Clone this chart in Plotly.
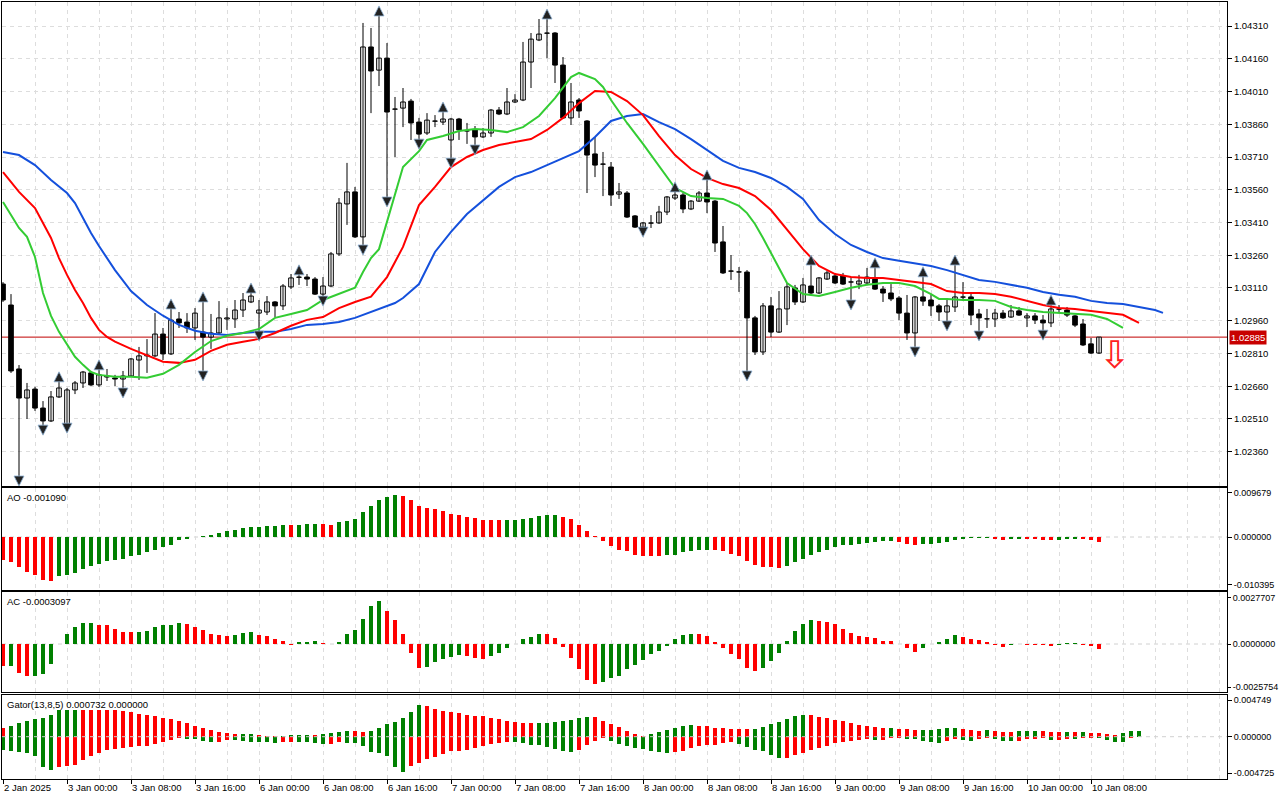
import plotly.graph_objects as go
from plotly.subplots import make_subplots

# ---------------- data (EURUSD-like H1, 2 Jan 16:00 -> 10 Jan 09:00) ----------------
open_ = [1.03128, 1.03032, 1.02739, 1.02606, 1.02647, 1.02560, 1.02501, 1.02611, 1.02487, 1.02643,
         1.02675, 1.02721, 1.02666, 1.02702, 1.02698, 1.02693, 1.02707, 1.02780, 1.02799, 1.02799,
         1.02899, 1.02808, 1.02968, 1.02954, 1.02927, 1.02908, 1.02885, 1.02904, 1.02968, 1.02968,
         1.03009, 1.03046, 1.02995, 1.03000, 1.03046, 1.03028, 1.03115, 1.03160, 1.03160, 1.03151,
         1.03082, 1.03119, 1.03266, 1.03495, 1.03550, 1.03344, 1.04214, 1.04108, 1.04163, 1.03930,
         1.03934, 1.03966, 1.03870, 1.03820, 1.03875, 1.03870, 1.03788, 1.03884, 1.03829, 1.03834,
         1.03802, 1.03820, 1.03925, 1.03907, 1.03962, 1.03971, 1.04145, 1.04246, 1.04278, 1.04278,
         1.04131, 1.03889, 1.03971, 1.03875, 1.03724, 1.03678, 1.03664, 1.03540, 1.03545, 1.03440,
         1.03389, 1.03408, 1.03408, 1.03458, 1.03522, 1.03536, 1.03472, 1.03508, 1.03545, 1.03508,
         1.03321, 1.03188, 1.03183, 1.03183, 1.02973, 1.02817, 1.03028, 1.02908, 1.03014, 1.03110,
         1.03046, 1.03119, 1.03087, 1.03151, 1.03165, 1.03165, 1.03137, 1.03128, 1.03133, 1.03156,
         1.03105, 1.03087, 1.03064, 1.02995, 1.02904, 1.03069, 1.03055, 1.03028, 1.03000, 1.03023,
         1.03069, 1.03069, 1.02991, 1.02968, 1.02968, 1.02995, 1.02977, 1.03005, 1.02973, 1.02982,
         1.02963, 1.02950, 1.03014, 1.03009, 1.02982, 1.02945, 1.02854, 1.02812]
high = [1.03137, 1.03082, 1.02757, 1.02675, 1.02657, 1.02592, 1.02638, 1.02689, 1.02652, 1.02684,
        1.02730, 1.02730, 1.02744, 1.02739, 1.02712, 1.02730, 1.02789, 1.02840, 1.02876, 1.02995,
        1.02927, 1.03023, 1.03000, 1.02995, 1.03018, 1.03055, 1.02991, 1.03050, 1.03018, 1.03055,
        1.03087, 1.03096, 1.03055, 1.03073, 1.03050, 1.03128, 1.03174, 1.03179, 1.03174, 1.03160,
        1.03160, 1.03275, 1.03522, 1.03683, 1.03573, 1.04324, 1.04301, 1.04365, 1.04232, 1.03985,
        1.04026, 1.03976, 1.03889, 1.03911, 1.03902, 1.03925, 1.03889, 1.03889, 1.03866, 1.03852,
        1.03843, 1.03930, 1.03939, 1.04026, 1.03998, 1.04237, 1.04278, 1.04342, 1.04351, 1.04282,
        1.04168, 1.04049, 1.03980, 1.03879, 1.03802, 1.03733, 1.03687, 1.03591, 1.03554, 1.03444,
        1.03412, 1.03444, 1.03486, 1.03531, 1.03559, 1.03545, 1.03513, 1.03554, 1.03614, 1.03513,
        1.03394, 1.03261, 1.03206, 1.03192, 1.02982, 1.03041, 1.03069, 1.03096, 1.03133, 1.03124,
        1.03156, 1.03224, 1.03160, 1.03188, 1.03179, 1.03179, 1.03160, 1.03170, 1.03202, 1.03211,
        1.03119, 1.03128, 1.03073, 1.03078, 1.03073, 1.03170, 1.03078, 1.03037, 1.03055, 1.03224,
        1.03137, 1.03087, 1.03014, 1.03014, 1.03014, 1.03009, 1.03032, 1.03023, 1.02995, 1.02995,
        1.02986, 1.03041, 1.03032, 1.03023, 1.02986, 1.02968, 1.02881, 1.02885]
low = [1.03046, 1.02721, 1.02240, 1.02510, 1.02547, 1.02473, 1.02496, 1.02606, 1.02482, 1.02624,
       1.02652, 1.02661, 1.02657, 1.02684, 1.02661, 1.02643, 1.02702, 1.02689, 1.02721, 1.02794,
       1.02780, 1.02803, 1.02927, 1.02904, 1.02872, 1.02721, 1.02831, 1.02899, 1.02918, 1.02927,
       1.02977, 1.03041, 1.02904, 1.02986, 1.02977, 1.03009, 1.03105, 1.03124, 1.03119, 1.03078,
       1.03064, 1.03115, 1.03257, 1.03399, 1.03339, 1.03298, 1.03911, 1.04035, 1.03518, 1.03710,
       1.03847, 1.03788, 1.03783, 1.03811, 1.03847, 1.03857, 1.03696, 1.03788, 1.03770, 1.03756,
       1.03797, 1.03802, 1.03902, 1.03902, 1.03957, 1.03966, 1.04026, 1.04241, 1.04163, 1.04049,
       1.03884, 1.03857, 1.03889, 1.03545, 1.03618, 1.03531, 1.03486, 1.03518, 1.03431, 1.03385,
       1.03380, 1.03385, 1.03403, 1.03444, 1.03513, 1.03453, 1.03467, 1.03504, 1.03453, 1.03275,
       1.03174, 1.03147, 1.03092, 1.02721, 1.02803, 1.02803, 1.02885, 1.02904, 1.02940, 1.03032,
       1.03041, 1.03082, 1.03082, 1.03147, 1.03128, 1.03124, 1.03046, 1.03105, 1.03128, 1.03101,
       1.03046, 1.03050, 1.02963, 1.02872, 1.02831, 1.03028, 1.02982, 1.02959, 1.02950, 1.03000,
       1.03055, 1.02940, 1.02904, 1.02927, 1.02931, 1.02968, 1.02973, 1.02982, 1.02931, 1.02945,
       1.02908, 1.02931, 1.02995, 1.02977, 1.02931, 1.02844, 1.02808, 1.02808]
close = [1.03055, 1.02730, 1.02606, 1.02643, 1.02560, 1.02501, 1.02611, 1.02652, 1.02643, 1.02675,
         1.02725, 1.02666, 1.02712, 1.02707, 1.02693, 1.02707, 1.02785, 1.02799, 1.02803, 1.02899,
         1.02808, 1.02963, 1.02950, 1.02927, 1.02995, 1.02885, 1.02904, 1.02973, 1.02973, 1.03009,
         1.03055, 1.03073, 1.03009, 1.03046, 1.03028, 1.03119, 1.03156, 1.03159, 1.03151, 1.03082,
         1.03119, 1.03266, 1.03499, 1.03550, 1.03344, 1.04214, 1.04104, 1.04163, 1.03916, 1.03929,
         1.03962, 1.03866, 1.03815, 1.03879, 1.03874, 1.03884, 1.03884, 1.03834, 1.03830, 1.03802,
         1.03820, 1.03925, 1.03907, 1.03962, 1.03971, 1.04145, 1.04250, 1.04273, 1.04277, 1.04131,
         1.03889, 1.03962, 1.03921, 1.03719, 1.03673, 1.03677, 1.03536, 1.03550, 1.03435, 1.03389,
         1.03408, 1.03407, 1.03458, 1.03527, 1.03536, 1.03472, 1.03508, 1.03545, 1.03504, 1.03316,
         1.03179, 1.03187, 1.03184, 1.02973, 1.02817, 1.03028, 1.02908, 1.03014, 1.03115, 1.03046,
         1.03124, 1.03087, 1.03156, 1.03179, 1.03133, 1.03128, 1.03138, 1.03142, 1.03160, 1.03105,
         1.03087, 1.03060, 1.02995, 1.02904, 1.03069, 1.03050, 1.03028, 1.03000, 1.03028, 1.03069,
         1.03068, 1.02986, 1.02973, 1.02969, 1.02995, 1.02973, 1.03005, 1.02986, 1.02982, 1.02963,
         1.02950, 1.03014, 1.03013, 1.02986, 1.02940, 1.02849, 1.02812, 1.02885]

# Alligator (already shifted forward: jaw +8, teeth +5, lips +3 bars)
jaw_idx = [0, 2, 4, 6, 8, 9, 10, 11, 12, 14, 16, 18, 20, 22, 24, 26, 28, 30, 32, 34, 36, 38, 40, 42, 44,
           46, 48, 49, 50, 52, 54, 56, 58, 60, 62, 64, 66, 68, 70, 72, 74, 76, 78, 80, 82, 84, 86, 88,
           90, 92, 94, 96, 98, 100, 102, 104, 106, 108, 110, 112, 114, 116, 118, 120, 122, 124, 126,
           128, 130, 132, 134, 136, 138, 140, 142, 144, 145]
jaw = [1.03733, 1.03719, 1.03673, 1.03605, 1.03545, 1.03499, 1.03431, 1.03362, 1.03302, 1.03192,
       1.03096, 1.03032, 1.02983, 1.02941, 1.02914, 1.02900, 1.02895, 1.02904, 1.02909, 1.02909,
       1.02922, 1.02941, 1.02945, 1.02954, 1.02973, 1.03000, 1.03028, 1.03041, 1.03064, 1.03128,
       1.03275, 1.03367, 1.03449, 1.03513, 1.03573, 1.03618, 1.03641, 1.03673, 1.03705, 1.03737,
       1.03802, 1.03875, 1.03898, 1.03907, 1.03870, 1.03838, 1.03792, 1.03742, 1.03692, 1.03660,
       1.03641, 1.03614, 1.03573, 1.03518, 1.03421, 1.03357, 1.03307, 1.03275, 1.03247, 1.03235,
       1.03224, 1.03211, 1.03192, 1.03170, 1.03147, 1.03138, 1.03125, 1.03111, 1.03092, 1.03079,
       1.03070, 1.03051, 1.03041, 1.03037, 1.03023, 1.03009, 1.02996]
teeth_idx = [0, 2, 4, 6, 7, 8, 9, 10, 11, 12, 13, 14, 16, 18, 20, 22, 24, 26, 28, 30, 32, 34, 36, 38,
             40, 42, 44, 46, 48, 50, 51, 52, 54, 56, 58, 60, 62, 64, 66, 68, 70, 72, 74, 76, 78, 80,
             82, 84, 86, 88, 90, 92, 94, 96, 98, 100, 102, 104, 106, 108, 110, 112, 114, 116, 118,
             120, 122, 124, 126, 128, 130, 132, 134, 136, 138, 140, 142]
teeth = [1.03641, 1.03550, 1.03476, 1.03339, 1.03247, 1.03170, 1.03101, 1.03041, 1.02973, 1.02918,
         1.02886, 1.02864, 1.02831, 1.02800, 1.02772, 1.02767, 1.02781, 1.02822, 1.02850, 1.02864,
         1.02877, 1.02904, 1.02937, 1.02964, 1.02977, 1.03018, 1.03046, 1.03070, 1.03160, 1.03298,
         1.03399, 1.03490, 1.03573, 1.03664, 1.03710, 1.03742, 1.03765, 1.03779, 1.03792, 1.03834,
         1.03889, 1.03957, 1.04012, 1.04008, 1.03966, 1.03902, 1.03806, 1.03719, 1.03655, 1.03614,
         1.03586, 1.03568, 1.03531, 1.03467, 1.03376, 1.03288, 1.03211, 1.03174, 1.03160, 1.03156,
         1.03156, 1.03147, 1.03138, 1.03128, 1.03096, 1.03087, 1.03087, 1.03082, 1.03070, 1.03051,
         1.03032, 1.03018, 1.03014, 1.03005, 1.02996, 1.02987, 1.02950]
lips_idx = [0, 2, 3, 4, 5, 6, 7, 8, 9, 10, 11, 12, 14, 16, 18, 20, 22, 24, 26, 28, 30, 32, 34, 36, 38,
            40, 42, 44, 45, 46, 47, 48, 49, 50, 52, 53, 55, 57, 59, 61, 63, 65, 67, 69, 71, 72, 74, 75,
            76, 77, 78, 80, 82, 84, 86, 88, 90, 92, 93, 94, 95, 96, 97, 98, 100, 102, 104, 106, 108,
            110, 112, 114, 116, 117, 118, 120, 122, 124, 126, 128, 130, 132, 134, 136, 138, 140]
lips = [1.03504, 1.03385, 1.03344, 1.03252, 1.03087, 1.02982, 1.02909, 1.02850, 1.02795, 1.02758,
        1.02725, 1.02712, 1.02703, 1.02703, 1.02699, 1.02717, 1.02758, 1.02817, 1.02867, 1.02891,
        1.02904, 1.02922, 1.02973, 1.02991, 1.03009, 1.03055, 1.03082, 1.03111, 1.03183, 1.03247,
        1.03288, 1.03412, 1.03531, 1.03664, 1.03737, 1.03788, 1.03806, 1.03829, 1.03838, 1.03834,
        1.03824, 1.03847, 1.03898, 1.03980, 1.04076, 1.04095, 1.04067, 1.04031, 1.03971, 1.03916,
        1.03866, 1.03770, 1.03669, 1.03568, 1.03531, 1.03522, 1.03518, 1.03486, 1.03453, 1.03403,
        1.03339, 1.03270, 1.03202, 1.03133, 1.03082, 1.03073, 1.03092, 1.03111, 1.03125, 1.03133,
        1.03133, 1.03119, 1.03082, 1.03060, 1.03060, 1.03055, 1.03055, 1.03051, 1.03023, 1.03009,
        1.03000, 1.02996, 1.02991, 1.02987, 1.02968, 1.02927]

fractal_up = [7, 12, 21, 25, 31, 37, 47, 55, 68, 84, 88, 101, 109, 115, 119, 131]
fractal_down = [2, 5, 8, 15, 25, 32, 40, 45, 48, 52, 56, 59, 80, 93, 106, 114, 118, 122, 130]

ao = [-0.00495, -0.00552, -0.00661, -0.00770, -0.00835, -0.00931, -0.00953, -0.00857, -0.00822, -0.00785,
      -0.00691, -0.00639, -0.00582, -0.00517, -0.00495, -0.00473, -0.00421, -0.00386, -0.00334, -0.00277,
      -0.00218, -0.00168, -0.00072, -0.00037, -0.00007, 0.00015, 0.00037, 0.00087, 0.00124, 0.00146,
      0.00190, 0.00218, 0.00225, 0.00240, 0.00246, 0.00262, 0.00255, 0.00268, 0.00283, 0.00290,
      0.00288, 0.00268, 0.00320, 0.00355, 0.00399, 0.00538, 0.00682, 0.00813, 0.00865, 0.00905,
      0.00898, 0.00813, 0.00682, 0.00632, 0.00610, 0.00560, 0.00508, 0.00486, 0.00429, 0.00414,
      0.00377, 0.00364, 0.00360, 0.00366, 0.00371, 0.00399, 0.00421, 0.00458, 0.00473, 0.00486,
      0.00443, 0.00386, 0.00268, 0.00124, 0.00015, -0.00094, -0.00190, -0.00277, -0.00312, -0.00386,
      -0.00407, -0.00410, -0.00421, -0.00399, -0.00386, -0.00334, -0.00312, -0.00290, -0.00277, -0.00283,
      -0.00312, -0.00364, -0.00421, -0.00517, -0.00604, -0.00654, -0.00661, -0.00669, -0.00626, -0.00545,
      -0.00473, -0.00386, -0.00334, -0.00277, -0.00211, -0.00181, -0.00168, -0.00146, -0.00131, -0.00109,
      -0.00094, -0.00087, -0.00109, -0.00146, -0.00168, -0.00153, -0.00146, -0.00137, -0.00109, -0.00059,
      -0.00044, -0.00029, -0.00022, -0.00018, -0.00044, -0.00059, -0.00050, -0.00044, -0.00047, -0.00051,
      -0.00058, -0.00065, -0.00058, -0.00050, -0.00044, -0.00050, -0.00059, -0.00109]
ac = [-0.00133, -0.00131, -0.00171, -0.00191, -0.00189, -0.00179, -0.00119, 0.00002, 0.00060, 0.00100,
      0.00124, 0.00125, 0.00113, 0.00112, 0.00090, 0.00073, 0.00072, 0.00073, 0.00079, 0.00100,
      0.00113, 0.00115, 0.00125, 0.00119, 0.00103, 0.00084, 0.00060, 0.00054, 0.00050, 0.00054,
      0.00066, 0.00072, 0.00054, 0.00048, 0.00030, 0.00018, -0.00006, 0.00012, 0.00013, 0.00018,
      0.00006, -0.00002, 0.00012, 0.00060, 0.00084, 0.00149, 0.00227, 0.00257, 0.00197, 0.00143,
      0.00060, -0.00052, -0.00141, -0.00140, -0.00106, -0.00090, -0.00076, -0.00066, -0.00070, -0.00082,
      -0.00090, -0.00070, -0.00052, -0.00022, -0.00002, 0.00030, 0.00044, 0.00060, 0.00058, 0.00034,
      -0.00020, -0.00082, -0.00147, -0.00213, -0.00237, -0.00229, -0.00205, -0.00189, -0.00147, -0.00125,
      -0.00096, -0.00060, -0.00040, -0.00010, 0.00030, 0.00054, 0.00060, 0.00058, 0.00048, 0.00010,
      -0.00022, -0.00058, -0.00090, -0.00141, -0.00159, -0.00141, -0.00100, -0.00052, 0.00020, 0.00079,
      0.00119, 0.00143, 0.00137, 0.00133, 0.00119, 0.00090, 0.00067, 0.00048, 0.00044, 0.00036,
      0.00020, 0.00019, -0.00002, -0.00022, -0.00046, -0.00022, -0.00002, 0.00010, 0.00030, 0.00054,
      0.00044, 0.00030, 0.00024, 0.00014, -0.00004, -0.00016, -0.00008, -0.00002, -0.00003, -0.00004,
      -0.00006, -0.00012, -0.00004, 0.00004, 0.00005, -0.00004, -0.00012, -0.0003097]
gator_up = [0.001131, 0.001430, 0.001781, 0.001989, 0.002301, 0.002431, 0.002821, 0.003471, 0.003484, 0.003497,
            0.003471, 0.003458, 0.003445, 0.003432, 0.003419, 0.003406, 0.003159, 0.002951, 0.002821, 0.002639,
            0.002431, 0.002340, 0.001989, 0.001781, 0.001430, 0.001170, 0.000871, 0.000611, 0.000481, 0.000299,
            0.000338, 0.000364, 0.000260, 0.000130, 0.000065, 0.000130, 0.000221, 0.000234, 0.000247, 0.000221,
            0.000351, 0.000481, 0.000611, 0.000741, 0.000728, 0.000611, 0.000741, 0.001170, 0.001651, 0.001911,
            0.002431, 0.003211, 0.004121, 0.003991, 0.003640, 0.003380, 0.003211, 0.003081, 0.002821, 0.002691,
            0.002678, 0.002431, 0.002301, 0.002041, 0.001911, 0.001781, 0.001768, 0.001781, 0.001794, 0.001911,
            0.002041, 0.002171, 0.002431, 0.002561, 0.002548, 0.002041, 0.001651, 0.001261, 0.000741, 0.000351,
            0.000091, 0.000351, 0.000611, 0.000871, 0.001131, 0.001391, 0.001521, 0.001391, 0.001378, 0.001131,
            0.001118, 0.001001, 0.000988, 0.000975, 0.001001, 0.001261, 0.001651, 0.001911, 0.002301, 0.002691,
            0.002821, 0.002808, 0.002561, 0.002431, 0.002171, 0.002041, 0.001781, 0.001521, 0.001391, 0.001300,
            0.001131, 0.001144, 0.001001, 0.000988, 0.000871, 0.000884, 0.000897, 0.001001, 0.001131, 0.001144,
            0.001001, 0.000871, 0.000741, 0.000871, 0.000741, 0.000611, 0.000598, 0.000741, 0.000754, 0.000767,
            0.000741, 0.000611, 0.000598, 0.000611, 0.000598, 0.000611, 0.000481, 0.000468, 0.000351, 0.000286,
            0.000481, 0.000715, 0.000732]
gator_down = [-0.001690, -0.001820, -0.001989, -0.002119, -0.002561, -0.003939, -0.004290, -0.003900, -0.003861, -0.003640,
              -0.002990, -0.002561, -0.002119, -0.001781, -0.001599, -0.001469, -0.001339, -0.001170, -0.001157, -0.000910,
              -0.000689, -0.000390, -0.000130, -0.000260, -0.000299, -0.000520, -0.000650, -0.000637, -0.000390, -0.000403,
              -0.000520, -0.000650, -0.000663, -0.000676, -0.000819, -0.000650, -0.000637, -0.000650, -0.000741, -0.000819,
              -0.000910, -0.000897, -0.000741, -0.000754, -0.000767, -0.001261, -0.001989, -0.002119, -0.002561, -0.003900,
              -0.004550, -0.003770, -0.003419, -0.002860, -0.002600, -0.002249, -0.001820, -0.001807, -0.001690, -0.001469,
              -0.001170, -0.000910, -0.000780, -0.000650, -0.000663, -0.000780, -0.001040, -0.001053, -0.001300, -0.001560,
              -0.001820, -0.001950, -0.001690, -0.001040, -0.000520, -0.000130, -0.000520, -0.000910, -0.001170, -0.001430,
              -0.001560, -0.001820, -0.001950, -0.002080, -0.001950, -0.001820, -0.001430, -0.001170, -0.001040, -0.001027,
              -0.000780, -0.000650, -0.000910, -0.001300, -0.001690, -0.001820, -0.002340, -0.002730, -0.002717, -0.002340,
              -0.002080, -0.001690, -0.001430, -0.001170, -0.000780, -0.000650, -0.000520, -0.000390, -0.000260, -0.000390,
              -0.000377, -0.000130, -0.000117, -0.000260, -0.000299, -0.000520, -0.000650, -0.000780, -0.000520, -0.000260,
              -0.000390, -0.000520, -0.000260, -0.000130, -0.000260, -0.000520, -0.000533, -0.000507, -0.000260, -0.000247,
              -0.000130, -0.000390, -0.000377, -0.000325, -0.000338, -0.000130, -0.000117, -0.000130, -0.000390, -0.000650,
              -0.000663, -0.000130, 0.0]

time_tick_idx = [0, 8, 16, 24, 32, 40, 48, 56, 64, 72, 80, 88, 96, 104, 112, 120, 128, 136]
time_tick_text = ["2 Jan 2025", "3 Jan 00:00", "3 Jan 08:00", "3 Jan 16:00", "6 Jan 00:00", "6 Jan 08:00",
                  "6 Jan 16:00", "7 Jan 00:00", "7 Jan 08:00", "7 Jan 16:00", "8 Jan 00:00", "8 Jan 08:00",
                  "8 Jan 16:00", "9 Jan 00:00", "9 Jan 08:00", "9 Jan 16:00", "10 Jan 00:00", "10 Jan 08:00"]
price_ticks = [1.02360, 1.02510, 1.02660, 1.02810, 1.02960, 1.03110, 1.03260, 1.03410,
               1.03560, 1.03710, 1.03860, 1.04010, 1.04160, 1.04310]
ao_ticks = [0.009679, 0.0, -0.010395]
ac_ticks = [0.0027707, 0.0, -0.0025754]
gator_ticks = [0.004749, 0.0, -0.004725]

# ---------------- styling ----------------
FONT = "Liberation Sans, Arial, sans-serif"
FS = 9.5
GREEN = "#008000"
RED = "#FF0000"
GRID = "#DDDDDD"
DASH = "4px,4px"
PAD = 0.00037          # fractal arrow distance from the bar extreme (price units)
W, H = 1280, 800

n = len(close)
idx = list(range(n))


def rise_colors(vals, first, use_abs=False):
    out = [first]
    for a, b in zip(vals[:-1], vals[1:]):
        pa, pb = (abs(a), abs(b)) if use_abs else (a, b)
        out.append(GREEN if pb > pa else RED)
    return out


fig = make_subplots(rows=4, cols=1, shared_xaxes=True, vertical_spacing=0.0)

# wicks
wx, wy = [], []
for i in idx:
    wx += [i, i, None]
    wy += [low[i], high[i], None]
fig.add_trace(go.Scatter(x=wx, y=wy, mode="lines", line=dict(color="black", width=1),
                         hoverinfo="skip"), row=1, col=1)
# bodies
base = [min(o, c) for o, c in zip(open_, close)]
body = [max(abs(c - o), 0.000008) for o, c in zip(open_, close)]
fill = ["white" if c >= o else "black" for o, c in zip(open_, close)]
fig.add_trace(go.Bar(x=idx, y=body, base=base, width=0.58,
                     marker=dict(color=fill, line=dict(color="black", width=1))), row=1, col=1)

# alligator
fig.add_trace(go.Scatter(x=jaw_idx, y=jaw, mode="lines", line=dict(color="#1450DC", width=2)), row=1, col=1)
fig.add_trace(go.Scatter(x=teeth_idx, y=teeth, mode="lines", line=dict(color="#FF0000", width=2)), row=1, col=1)
fig.add_trace(go.Scatter(x=lips_idx, y=lips, mode="lines", line=dict(color="#33CC33", width=2)), row=1, col=1)

# fractals
fig.add_trace(go.Scatter(x=fractal_up, y=[high[i] + PAD for i in fractal_up], mode="markers",
                         marker=dict(symbol="arrow-up", size=10, color="#222222",
                                     line=dict(color="#8FB3D6", width=0.8))), row=1, col=1)
fig.add_trace(go.Scatter(x=fractal_down, y=[low[i] - PAD for i in fractal_down], mode="markers",
                         marker=dict(symbol="arrow-down", size=10, color="#222222",
                                     line=dict(color="#8FB3D6", width=0.8))), row=1, col=1)

# AO / AC
fig.add_trace(go.Bar(x=idx, y=ao, width=0.6, marker=dict(color=rise_colors(ao, RED), line=dict(width=0))),
              row=2, col=1)
fig.add_trace(go.Bar(x=idx, y=ac, width=0.6, marker=dict(color=rise_colors(ac, RED), line=dict(width=0))),
              row=3, col=1)
# Gator
gidx = list(range(len(gator_up)))
fig.add_trace(go.Bar(x=gidx, y=gator_up, width=0.55,
                     marker=dict(color=rise_colors(gator_up, RED, True), line=dict(width=0))), row=4, col=1)
fig.add_trace(go.Bar(x=gidx, y=gator_down, width=0.55,
                     marker=dict(color=rise_colors(gator_down, GREEN, True), line=dict(width=0))), row=4, col=1)

# ---------------- layout ----------------
x_dom = [2 / W, 1227 / W]
doms = [[1 - 486 / H, 1 - 2 / H], [1 - 590 / H, 1 - 488 / H],
        [1 - 692 / H, 1 - 592 / H], [1 - 779 / H, 1 - 695 / H]]
yranges = [[1.02203, 1.04420], [-0.011554, 0.010682], [-0.0028656, 0.0031044], [-0.0055, 0.005421]]

fig.update_layout(width=W, height=H, margin=dict(l=0, r=0, t=0, b=0, autoexpand=False), showlegend=False,
                  paper_bgcolor="white", plot_bgcolor="white", barmode="overlay", bargap=0,
                  font=dict(family=FONT, size=FS, color="black"), hovermode=False)

for r in range(1, 5):
    last = r == 4
    fig.update_xaxes(row=r, col=1, domain=x_dom, range=[-0.125, 153], showline=True, mirror=True,
                     linecolor="black", linewidth=1, zeroline=False, automargin=False,
                     tickmode="array", tickvals=time_tick_idx, ticktext=time_tick_text, tickangle=0,
                     showticklabels=last, ticks="outside" if last else "", ticklen=4, tickcolor="black",
                     ticklabelposition="outside right",
                     showgrid=True, gridcolor=GRID, griddash=DASH, gridwidth=1,
                     minor=dict(dtick=4, tick0=0, showgrid=True, gridcolor=GRID, griddash=DASH, ticks=""))
    fig.update_yaxes(row=r, col=1, domain=doms[r - 1], range=yranges[r - 1], side="right",
                     showline=True, mirror=True, linecolor="black", linewidth=1, zeroline=False,
                     automargin=False, ticks="outside", ticklen=4, tickcolor="black", fixedrange=True,
                     tickfont=dict(size=FS if r == 1 else 9))

fig.update_yaxes(row=1, col=1, tickmode="array", tickvals=price_ticks,
                 ticktext=[f"{v:.5f}" for v in price_ticks],
                 showgrid=True, gridcolor=GRID, griddash=DASH)
fig.update_yaxes(row=2, col=1, tickmode="array", tickvals=ao_ticks,
                 ticktext=[f"{v:.6f}" for v in ao_ticks], showgrid=False)
fig.update_yaxes(row=3, col=1, tickmode="array", tickvals=ac_ticks,
                 ticktext=[f"{v:.7f}" for v in ac_ticks], showgrid=False, ticklen=3)
fig.update_yaxes(row=4, col=1, tickmode="array", tickvals=gator_ticks,
                 ticktext=[f"{v:.6f}" for v in gator_ticks], showgrid=False)

# zero lines of the oscillators
for r, lay in ((2, "below"), (3, "below"), (4, "above")):
    fig.add_shape(type="line", xref=f"x{r} domain", yref=f"y{r}", x0=0, x1=1, y0=0, y1=0,
                  line=dict(color="#D0D0D0", width=1, dash=DASH), layer=lay)

# current price line + label
fig.add_shape(type="line", xref="x domain", yref="y", x0=0, x1=1, y0=close[-1], y1=close[-1],
              line=dict(color="#C00000", width=1), layer="below")
fig.add_annotation(xref="paper", yref="y", x=1229 / W, y=close[-1], xanchor="left", yanchor="middle",
                   text=f"{close[-1]:.5f}", showarrow=False, bgcolor="#C80000", borderpad=1,
                   font=dict(color="white", size=FS, family=FONT))
# sell signal arrow after the last bar
fig.add_annotation(xref="x", yref="y", x=n - 1 + 2, y=close[-1], xanchor="center", yanchor="top",
                   yshift=6, text="\u21e9", showarrow=False,
                   font=dict(color="#FF2020", size=38, family="DejaVu Sans"))

# indicator captions
captions = [(2, f"AO {ao[-1]:.6f}"), (3, f"AC {ac[-1]:.7f}"),
            (4, f"Gator(13,8,5) {gator_up[-1]:.6f} {abs(gator_down[-1]):.6f}")]
for r, txt in captions:
    fig.add_annotation(xref="paper", yref=f"y{r} domain", x=5 / W, y=1, xanchor="left", yanchor="top",
                       yshift=-2, text=txt, showarrow=False, font=dict(size=FS, family=FONT))

fig.write_html("out.html", config={"displayModeBar": False, "staticPlot": True},
               post_script="document.body.style.margin='0';document.body.style.overflow='hidden';")
